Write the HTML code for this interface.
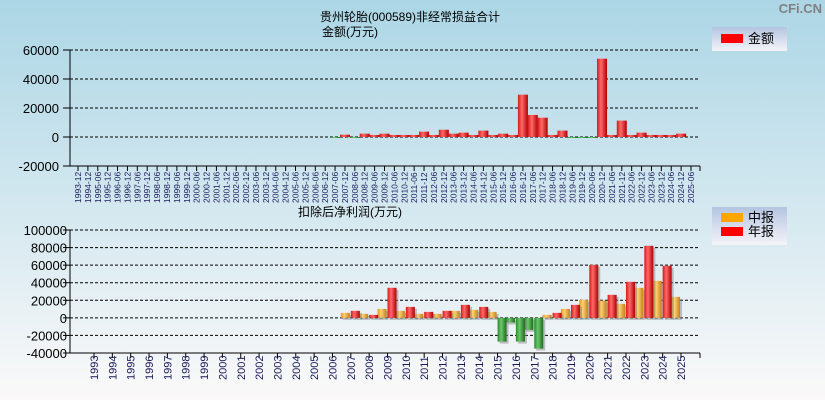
<!DOCTYPE html>
<html><head><meta charset="utf-8">
<style>
html,body{margin:0;padding:0;}
body{width:825px;height:400px;overflow:hidden;font-family:"Liberation Sans","Noto Sans CJK SC",sans-serif;}
svg text{font-family:"Liberation Sans","Noto Sans CJK SC",sans-serif;}
</style></head>
<body>
<svg id="chart" width="825" height="400" xmlns="http://www.w3.org/2000/svg">
<defs>
<linearGradient id="bg" x1="0" y1="0" x2="0" y2="1">
<stop offset="0" stop-color="#acd6e6"/><stop offset="0.55" stop-color="#d6e9f0"/><stop offset="1" stop-color="#fbf9f9"/>
</linearGradient>
<linearGradient id="lg" x1="0" y1="0" x2="0" y2="1">
<stop offset="0" stop-color="#b4c4e0"/><stop offset="1" stop-color="#f4f4f8"/>
</linearGradient>
<linearGradient id="gr" x1="0" y1="0" x2="1" y2="0">
<stop offset="0" stop-color="#d81818"/><stop offset="0.4" stop-color="#ff6a6a"/><stop offset="1" stop-color="#b00000"/>
</linearGradient>
<linearGradient id="go" x1="0" y1="0" x2="1" y2="0">
<stop offset="0" stop-color="#e09a20"/><stop offset="0.4" stop-color="#ffd070"/><stop offset="1" stop-color="#c08020"/>
</linearGradient>
<linearGradient id="gg" x1="0" y1="0" x2="1" y2="0">
<stop offset="0" stop-color="#2a8a2a"/><stop offset="0.4" stop-color="#6cc86c"/><stop offset="1" stop-color="#1e6a1e"/>
</linearGradient>
</defs>
<rect x="0" y="0" width="825" height="400" fill="url(#bg)"/>
<text x="822" y="13" text-anchor="end" font-size="13" font-weight="bold" fill="#808080">CFi.CN</text>
<text x="410" y="21" text-anchor="middle" font-size="12">贵州轮胎(000589)非经常损益合计</text>
<text x="350" y="36" text-anchor="middle" font-size="12">金额(万元)</text>
<text x="350" y="216" text-anchor="middle" font-size="12">扣除后净利润(万元)</text>
<g>
<rect x="712" y="27" width="75" height="24" fill="url(#lg)"/>
<rect x="721" y="34" width="22" height="9" fill="#ff0000"/>
<text x="748" y="43" font-size="13">金额</text>
</g>
<g>
<rect x="712" y="207" width="75" height="38" fill="url(#lg)"/>
<rect x="721" y="213" width="22" height="9" fill="#ffa500"/>
<text x="748" y="222" font-size="13">中报</text>
<rect x="721" y="227" width="22" height="9" fill="#ff0000"/>
<text x="748" y="236" font-size="13">年报</text>
</g>
<g id="top"></g>
<g id="bot"></g>
</svg>
<script>
// Top chart data
const topCats = ["1993-12","1994-12"];
for (let y = 1995; y <= 2025; y++) { topCats.push(y + "-06"); if (y < 2025) topCats.push(y + "-12"); }
const topStartCat = "2007-06";
const topValues = [-300,1600,-500,2300,1400,2300,1400,1400,1400,3700,1400,5000,2300,3000,1400,4400,1400,2300,1400,29200,15200,13300,1400,4400,-300,-500,-300,54000,1400,11300,1400,3000,1400,1400,1400,2300];
const topTicks = [60000,40000,20000,0,-20000];
// Bottom chart data
const botYears = [];
for (let y = 1993; y <= 2025; y++) botYears.push(String(y));
const botStartYear = "2007";
const interimValues = [5700,4600,10200,8000,4600,4600,8000,9100,6800,-5300,-13700,3400,10200,20500,19700,16000,34200,42100,23900];
const annualValues = [8000,3400,34200,12500,6800,8000,14800,12500,-27000,-27000,-35000,5700,14800,60300,26200,41000,82000,59200,null];
const botTicks = [100000,80000,60000,40000,20000,0,-20000,-40000];

const NS = "http://www.w3.org/2000/svg";
function mk(parent, tag, attrs) {
  const e = document.createElementNS(NS, tag);
  for (const k in attrs) e.setAttribute(k, attrs[k]);
  parent.appendChild(e); return e;
}
const X0 = 70, X1 = 700;

// ---- top chart ----
(function(){
  const g = document.getElementById('top');
  const yT = 50, yB = 166, vMax = 60000, vMin = -20000;
  const ys = v => yT + (vMax - v) * (yB - yT) / (vMax - vMin);
  const step = (691 - 78) / (topCats.length - 1);
  const xs = i => 78 + i * step;
  topTicks.forEach(t => {
    const y = ys(t);
    if (t !== vMin) { const l = mk(g,'line',{x1:X0,x2:X1,y1:y,y2:y,stroke:'#000','stroke-dasharray':'3,2'});   }
    const tk = mk(g,'line',{x1:X0-7,x2:X0,y1:y,y2:y,stroke:'#000'});
     
    const tx = mk(g,'text',{x:X0-11,y:y+5,'text-anchor':'end','font-size':'13'});
    tx.textContent = t;  
  });
  const ax = mk(g,'line',{x1:X0,x2:X0,y1:yT,y2:yB,stroke:'#000'});
   
  const bx = mk(g,'line',{x1:X0,x2:X1,y1:yB,y2:yB,stroke:'#000'});
   
  const start = topCats.indexOf(topStartCat);
  topValues.forEach((v, k) => {
    const i = start + k, cx = xs(i);
    const y0 = ys(0), y1 = ys(v);
    const r = mk(g,'rect',{x:cx-5,y:Math.min(y0,y1),width:10,height:Math.max(1,Math.abs(y1-y0)),fill:v<0?'url(#gg)':'url(#gr)'});
    
    
  });
  topCats.forEach((c, i) => {
    const x = xs(i);
    const tk = mk(g,'line',{x1:x,x2:x,y1:yB,y2:yB+5,stroke:'#000'});
     
    const tx = mk(g,'text',{x:0,y:0,'font-size':'8.5',transform:'translate('+(x+3)+','+(yB+37)+') rotate(-90)',fill:'#1a1a5a'});
    tx.textContent = c;  
  });
  mk(g,'line',{x1:X1,x2:X1,y1:yB,y2:yB+5,stroke:'#000'});
})();

// ---- bottom chart ----
(function(){
  const g = document.getElementById('bot');
  const yT = 230, yB = 353, vMax = 100000, vMin = -40000;
  const ys = v => yT + (vMax - v) * (yB - yT) / (vMax - vMin);
  const step = (681 - 94) / (botYears.length - 1);
  const xs = i => 94 + i * step;
  botTicks.forEach(t => {
    const y = ys(t);
    if (t !== vMin) { const l = mk(g,'line',{x1:X0,x2:X1,y1:y,y2:y,stroke:'#000','stroke-dasharray':'3,2'});   }
    const tk = mk(g,'line',{x1:X0-7,x2:X0,y1:y,y2:y,stroke:'#000'});
     
    const tx = mk(g,'text',{x:X0-3,y:y+5,'text-anchor':'end','font-size':'13'});
    tx.textContent = t;  
  });
  const ax = mk(g,'line',{x1:X0,x2:X0,y1:yT,y2:yB,stroke:'#000'});
   
  const bx = mk(g,'line',{x1:X0,x2:X1,y1:yB,y2:yB,stroke:'#000'});
   
  const start = botYears.indexOf(botStartYear);
  function bar(v, cx, fill, name) {
    if (v === null || v === undefined) return;
    const y0 = ys(0), y1 = ys(v);
    const top = Math.min(y0,y1), h = Math.max(1,Math.abs(y1-y0));
    mk(g,'rect',{x:cx+2,y:top+2,width:9,height:h,fill:'#888','fill-opacity':'0.5'});
    const r = mk(g,'rect',{x:cx,y:top,width:9,height:h,fill:v<0?'url(#gg)':fill});
    
    
  }
  interimValues.forEach((v,k) => bar(v, xs(start+k)-10, 'url(#go)', 'interim-bar-' + botYears[start+k]));
  annualValues.forEach((v,k) => bar(v, xs(start+k), 'url(#gr)', 'annual-bar-' + botYears[start+k]));
  botYears.forEach((c, i) => {
    const x = xs(i);
    const tk = mk(g,'line',{x1:x,x2:x,y1:yB,y2:yB+5,stroke:'#000'});
     
    const tx = mk(g,'text',{x:0,y:0,'font-size':'11',transform:'translate('+(x+4)+','+(yB+27)+') rotate(-90)',fill:'#1a1a5a'});
    tx.textContent = c;  
  });
  mk(g,'line',{x1:X1,x2:X1,y1:yB,y2:yB+5,stroke:'#000'});
})();
</script>
</body></html>
